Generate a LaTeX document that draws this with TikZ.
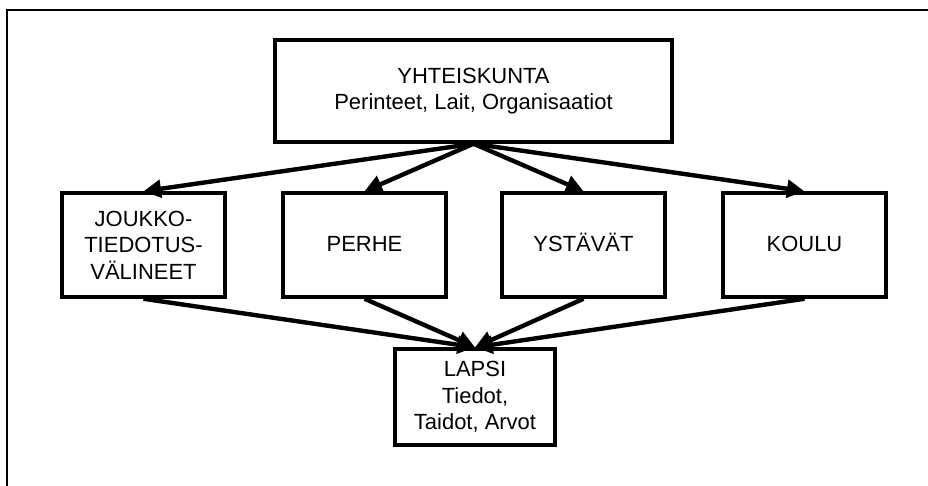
\documentclass[tikz,border=0pt]{standalone}
\usepackage{fontspec}
\setmainfont{Liberation Sans}
\usetikzlibrary{arrows.meta}

\begin{document}
\begin{tikzpicture}[x=0.02cm, y=-0.02cm,
        box/.style={draw, line width=2pt, align=center, inner sep=2pt,
            font=\fontsize{12.5}{15}\selectfont},
        unit/.style={box, minimum width=3.26cm, minimum height=2.08cm},
        oneline/.style={text height=9pt, text depth=2pt},
        link/.style={line width=2.5pt, -{Triangle[length=10pt, width=10pt]}}]
            \useasboundingbox (0,0) rectangle (928,485);
            \clip (0,0) rectangle (928,485);
            \draw[line width=1.1pt] (7,10) rectangle (950,500);
            \node[box, minimum width=7.94cm, minimum height=2.04cm] (society) at (473.5,91)
                {YHTEISKUNTA\\Perinteet, Lait, Organisaatiot};
            \node[unit] (media) at (143.5,245) {JOUKKO-\\TIEDOTUS-\\VÄLINEET};
            \node[unit, oneline] (family) at (364.5,245) {PERHE};
            \node[unit, oneline] (friends) at (583.5,245) {YSTÄVÄT};
            \node[unit, oneline] (school) at (804.5,245) {KOULU};
            \node[box, minimum width=3.2cm, minimum height=1.92cm] (child) at (475,397)
                {LAPSI\\Tiedot,\\Taidot, Arvot};
            \foreach \n in {media, family, friends, school}
                \draw[link] (society.south) -- (\n.north);
            \foreach \n in {media, family, friends, school}
                \draw[link] (\n.south) -- (child.north);
        \end{tikzpicture}
\end{document}
